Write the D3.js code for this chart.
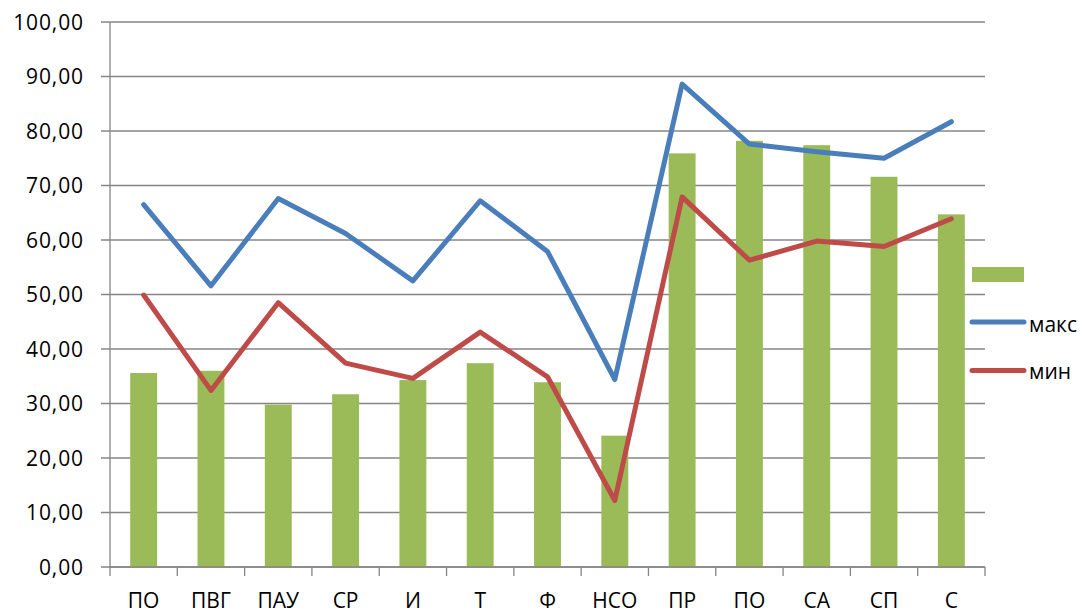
<!DOCTYPE html>
<html>
<head>
<meta charset="utf-8">
<script src="https://cdn.jsdelivr.net/npm/d3@7"></script>
<style>
  body { margin: 0; background: #fff; }
  text { font-family: "Open Sans", sans-serif; fill: #000; }
</style>
</head>
<body>
<svg id="chart" width="1086" height="613"></svg>
<script>
var categories = ['ПО', 'ПВГ', 'ПАУ', 'СР', 'И', 'Т', 'Ф', 'НСО', 'ПР', 'ПО', 'СА', 'СП', 'С'];
var barValues  = [35.6, 36.0, 29.8, 31.7, 34.3, 37.4, 33.9, 24.1, 75.9, 78.2, 77.4, 71.6, 64.7];
var maxValues  = [66.5, 51.6, 67.6, 61.2, 52.5, 67.2, 57.9, 34.4, 88.6, 77.6, 76.2, 75.0, 81.7];
var minValues  = [49.9, 32.4, 48.5, 37.4, 34.6, 43.1, 34.9, 12.2, 67.9, 56.3, 59.8, 58.8, 63.9];
var yTicks     = [0, 10, 20, 30, 40, 50, 60, 70, 80, 90, 100];
var seriesNames = ['', 'макс', 'мин'];

(function() {
    'use strict';

    var svg = d3.select('#chart'),
        left = 110, right = 985, top = 22, bottom = 567,
        green = '#9bbb59', blue = '#4a7ebb', red = '#be4b48', grey = '#868686';

    var idx = categories.map(function(d, i) { return i; });

    var x = d3.scaleBand().domain(idx).range([left, right]).paddingInner(0).paddingOuter(0);
    var y = d3.scaleLinear().domain([0, 100]).range([bottom, top]);
    var fmt = function(v) { return d3.format('.2f')(v).replace('.', ','); };

    // gridlines
    svg.append('g').selectAll('line.grid').data(yTicks).enter().append('line')
        .attr('class', 'grid')
        .attr('x1', left - 9).attr('x2', right)
        .attr('y1', function(d) { return y(d); }).attr('y2', function(d) { return y(d); })
        .attr('stroke', grey).attr('stroke-width', 1.3);

    // y axis line + labels
    svg.append('line')
        .attr('x1', left).attr('x2', left).attr('y1', top).attr('y2', bottom)
        .attr('stroke', grey).attr('stroke-width', 1.3);
    svg.append('g').selectAll('text').data(yTicks).enter().append('text')
        .attr('x', 84).attr('y', function(d) { return y(d) + 7.5; })
        .attr('text-anchor', 'end')
        .style('font-size', '21px').style('letter-spacing', '0.9px')
        .text(fmt);

    // x axis ticks
    var xTickPos = idx.map(function(i) { return x(i); }).concat([right]);
    svg.append('g').selectAll('line').data(xTickPos).enter().append('line')
        .attr('x1', function(d) { return d; }).attr('x2', function(d) { return d; })
        .attr('y1', bottom).attr('y2', bottom + 9)
        .attr('stroke', grey).attr('stroke-width', 1.3);

    // bars
    var barW = x.bandwidth() * 0.4;
    svg.append('g').selectAll('rect').data(barValues).enter().append('rect')
        .attr('x', function(d, i) { return x(i) + x.bandwidth() / 2 - barW / 2; })
        .attr('y', function(d) { return y(d); })
        .attr('width', barW)
        .attr('height', function(d) { return y(0) - y(d); })
        .attr('fill', green);

    // x axis baseline drawn over bars
    svg.append('line')
        .attr('x1', left).attr('x2', right).attr('y1', bottom).attr('y2', bottom)
        .attr('stroke', grey).attr('stroke-width', 1.3);

    // lines
    var line = d3.line()
        .x(function(d, i) { return x(i) + x.bandwidth() / 2; })
        .y(function(d) { return y(d); });
    [[maxValues, blue], [minValues, red]].forEach(function(s) {
        svg.append('path').datum(s[0])
            .attr('d', line)
            .attr('fill', 'none')
            .attr('stroke', s[1])
            .attr('stroke-width', 5)
            .attr('stroke-linejoin', 'round')
            .attr('stroke-linecap', 'round');
    });

    // x labels
    svg.append('g').selectAll('text').data(categories).enter().append('text')
        .attr('x', function(d, i) { return x(i) + x.bandwidth() / 2; })
        .attr('y', 608)
        .attr('text-anchor', 'middle')
        .style('font-size', '21px')
        .text(function(d) { return d; });

    // legend
    var lg = svg.append('g');
    lg.append('rect').attr('x', 972).attr('y', 267).attr('width', 52).attr('height', 15).attr('fill', green);
    [[322, blue, seriesNames[1], 332], [370.5, red, seriesNames[2], 379]].forEach(function(l) {
        lg.append('line')
            .attr('x1', 972).attr('x2', 1024).attr('y1', l[0]).attr('y2', l[0])
            .attr('stroke', l[1]).attr('stroke-width', 5).attr('stroke-linecap', 'round');
        lg.append('text').attr('x', 1029).attr('y', l[3])
            .style('font-size', '21px')
            .text(l[2]);
    });
})();
</script>
</body>
</html>
